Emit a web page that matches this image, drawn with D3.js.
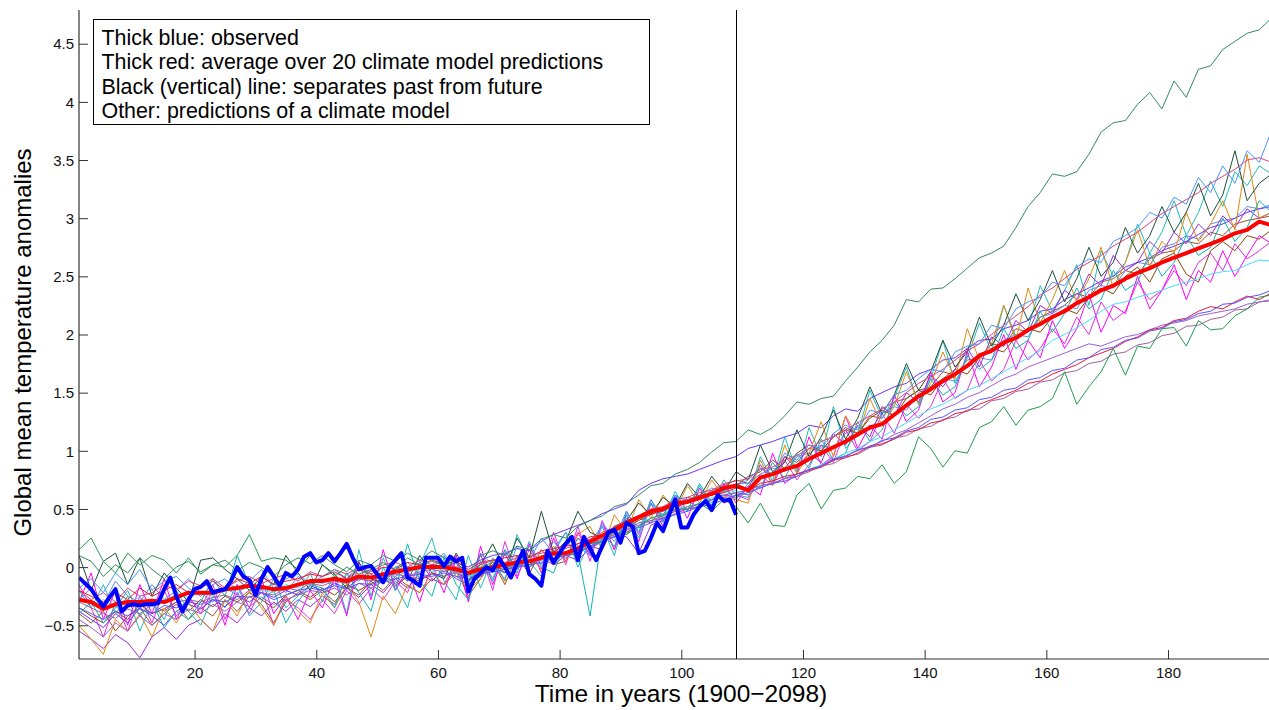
<!DOCTYPE html>
<html>
<head>
<meta charset="utf-8">
<script src="https://cdn.jsdelivr.net/npm/d3@7"></script>
<style>
  body { margin: 0; background: #fff; }
  svg { display: block; font-family: "Liberation Sans", Arial, Helvetica, sans-serif; }
</style>
</head>
<body>
<svg id="chart" width="1269" height="710"></svg>
<script>
// plot box (MATLAB style, ticks pointing in)
const margin = { top: 10, right: 0, bottom: 51, left: 79 }
const W = 1269, H = 710
const width = W - margin.left - margin.right
const height = H - margin.top - margin.bottom

// model runs are read every two years (1, 3, ..., 197), observations every year (1..109)
const modelYears = d3.range(1, 198, 2)
const obsYears = d3.range(1, 110)
const splitYear = 109
const xTicks = [20, 40, 60, 80, 100, 120, 140, 160, 180]
const yTicks = [-0.5, 0, 0.5, 1, 1.5, 2, 2.5, 3, 3.5, 4, 4.5]

const legendLines = [
  "Thick blue: observed",
  "Thick red: average over 20 climate model predictions",
  "Black (vertical) line: separates past from future",
  "Other: predictions of a climate model"
]

const observed = [
  -0.09,-0.14,-0.19,-0.27,-0.34,-0.26,-0.19,-0.38,-0.33,-0.32,
  -0.33,-0.32,-0.32,-0.31,-0.19,-0.09,-0.25,-0.38,-0.28,-0.19,
  -0.17,-0.12,-0.22,-0.20,-0.19,-0.12,0.00,-0.08,-0.11,-0.24,
  -0.10,0.00,-0.08,-0.16,-0.05,-0.08,-0.02,0.09,0.12,0.04,
  0.06,0.12,0.05,0.12,0.20,0.08,-0.02,0.00,0.01,-0.06,
  -0.13,0.00,0.06,0.12,-0.09,-0.12,-0.16,0.08,0.08,0.08,
  0.01,0.09,0.05,0.08,-0.21,-0.10,-0.05,0.00,-0.03,0.08,
  0.00,-0.09,0.03,0.14,-0.06,-0.10,-0.16,0.14,0.04,0.12,
  0.20,0.26,0.06,0.26,0.16,0.06,0.18,0.30,0.32,0.21,
  0.38,0.35,0.12,0.14,0.25,0.38,0.31,0.45,0.58,0.34,
  0.34,0.45,0.52,0.57,0.49,0.62,0.57,0.58,0.45
]

const modelMean = [
  -0.28,-0.30,-0.36,-0.32,-0.30,-0.30,-0.29,-0.30,-0.26,-0.22,
  -0.22,-0.22,-0.19,-0.18,-0.16,-0.17,-0.19,-0.18,-0.15,-0.12,
  -0.12,-0.10,-0.12,-0.08,-0.09,-0.06,-0.04,-0.02,0.00,0.00,
  0.00,-0.02,-0.05,-0.02,0.00,0.02,0.04,0.05,0.08,0.12,
  0.12,0.16,0.22,0.27,0.32,0.38,0.43,0.48,0.50,0.55,
  0.56,0.60,0.63,0.68,0.70,0.66,0.77,0.80,0.84,0.87,
  0.93,0.98,1.03,1.08,1.14,1.20,1.23,1.31,1.39,1.47,
  1.53,1.60,1.66,1.73,1.82,1.86,1.93,1.97,2.04,2.09,
  2.15,2.20,2.27,2.32,2.38,2.42,2.48,2.53,2.57,2.62,
  2.66,2.70,2.74,2.78,2.82,2.87,2.90,2.97,2.94
]

// the 20 model runs
const runSeaGreen = [
  0.10,0.05,-0.08,0.02,-0.05,0.08,-0.02,-0.10,0.00,0.05,
  -0.04,0.02,0.06,-0.03,0.04,0.00,-0.08,0.02,0.08,0.03,
  0.10,0.02,-0.04,0.06,0.02,0.10,0.05,0.12,0.06,0.14,
  0.08,0.04,-0.06,0.10,0.14,0.10,0.18,0.15,0.24,0.28,
  0.25,0.35,0.40,0.44,0.52,0.55,0.62,0.70,0.72,0.80,
  0.84,0.90,0.99,1.07,1.08,1.18,1.14,1.20,1.30,1.42,
  1.40,1.45,1.47,1.60,1.72,1.85,1.95,2.08,2.30,2.28,
  2.39,2.40,2.48,2.57,2.66,2.70,2.76,2.92,3.10,3.22,
  3.38,3.36,3.40,3.55,3.74,3.82,3.84,3.98,4.08,3.94,
  4.18,4.04,4.28,4.31,4.45,4.52,4.59,4.62,4.72
]
const runGreen = [
  0.15,0.25,0.05,-0.05,0.12,0.02,0.10,0.06,-0.05,0.08,
  -0.06,0.02,0.00,0.10,0.28,0.05,0.08,0.06,-0.02,0.10,
  0.02,-0.08,0.00,-0.06,-0.02,0.04,-0.02,0.08,0.02,0.05,
  0.02,0.06,-0.12,0.00,0.04,-0.05,0.06,0.02,0.10,0.06,
  0.12,0.10,0.20,0.22,0.30,0.28,0.35,0.42,0.45,0.50,
  0.50,0.55,0.48,0.58,0.52,0.38,0.55,0.36,0.35,0.62,
  0.72,0.50,0.66,0.68,0.78,0.76,0.88,0.72,0.82,1.12,
  1.02,0.86,1.00,0.98,1.20,1.25,1.38,1.22,1.35,1.38,
  1.45,1.68,1.40,1.55,1.68,1.88,1.65,1.90,1.88,2.05,
  2.06,1.90,2.12,2.04,2.05,2.16,2.22,2.32,2.34
]
const runBlueLow = [
  -0.35,-0.40,-0.45,-0.38,-0.42,-0.36,-0.40,-0.33,-0.35,-0.30,
  -0.32,-0.28,-0.30,-0.25,-0.26,-0.22,-0.28,-0.24,-0.20,-0.18,
  -0.20,-0.16,-0.19,-0.14,-0.15,-0.12,-0.10,-0.08,-0.06,-0.08,
  -0.05,-0.08,-0.10,-0.06,-0.04,-0.02,0.00,0.02,0.04,0.08,
  0.10,0.12,0.18,0.22,0.26,0.30,0.34,0.38,0.42,0.45,
  0.48,0.52,0.54,0.58,0.62,0.64,0.68,0.72,0.74,0.78,
  0.84,0.87,0.93,0.95,1.01,1.03,1.09,1.11,1.17,1.20,
  1.27,1.29,1.35,1.37,1.44,1.46,1.52,1.54,1.61,1.63,
  1.69,1.71,1.78,1.80,1.87,1.89,1.95,1.97,2.03,2.05,
  2.11,2.13,2.18,2.20,2.26,2.27,2.32,2.34,2.38
]
const runCrimson = [
  -0.20,-0.25,-0.30,-0.22,-0.28,-0.18,-0.25,-0.20,-0.15,-0.22,
  -0.18,-0.12,-0.20,-0.10,-0.14,-0.08,-0.15,-0.12,-0.10,-0.06,
  -0.08,-0.04,-0.10,-0.02,-0.06,0.00,-0.02,0.04,0.02,0.06,
  0.03,0.05,-0.02,0.04,0.06,0.08,0.10,0.08,0.14,0.16,
  0.18,0.20,0.26,0.28,0.34,0.36,0.42,0.45,0.50,0.52,
  0.55,0.58,0.62,0.64,0.68,0.66,0.72,0.74,0.78,0.80,
  0.83,0.86,0.92,0.94,0.98,1.04,1.06,1.10,1.16,1.18,
  1.24,1.26,1.32,1.34,1.40,1.44,1.48,1.52,1.58,1.60,
  1.66,1.70,1.74,1.80,1.84,1.88,1.94,1.98,2.04,2.06,
  2.12,2.14,2.20,2.24,2.22,2.28,2.33,2.30,2.36
]
const runPurpleLow = [
  -0.45,-0.52,-0.60,-0.48,-0.55,-0.42,-0.50,-0.40,-0.45,-0.36,
  -0.40,-0.32,-0.38,-0.30,-0.34,-0.26,-0.32,-0.28,-0.24,-0.20,
  -0.22,-0.18,-0.24,-0.14,-0.18,-0.12,-0.14,-0.08,-0.10,-0.06,
  -0.08,-0.04,-0.12,-0.06,-0.02,-0.04,0.02,0.00,0.06,0.10,
  0.08,0.14,0.18,0.24,0.26,0.32,0.36,0.40,0.42,0.48,
  0.50,0.52,0.58,0.60,0.64,0.62,0.70,0.72,0.76,0.80,
  0.84,0.86,0.92,0.96,1.00,1.04,1.08,1.14,1.18,1.24,
  1.30,1.36,1.40,1.46,1.50,1.56,1.62,1.66,1.72,1.76,
  1.80,1.84,1.88,1.92,1.90,1.94,1.98,2.00,2.04,2.08,
  2.10,2.12,2.16,2.18,2.20,2.22,2.26,2.28,2.30
]
const runMauve = [
  -0.30,-0.35,-0.40,-0.44,-0.36,-0.40,-0.32,-0.38,-0.30,-0.28,
  -0.30,-0.26,-0.24,-0.28,-0.20,-0.22,-0.24,-0.18,-0.20,-0.14,
  -0.16,-0.12,-0.14,-0.10,-0.12,-0.08,-0.06,-0.08,-0.04,-0.02,
  -0.04,0.00,-0.06,-0.02,0.02,0.00,0.04,0.06,0.08,0.10,
  0.12,0.16,0.20,0.24,0.28,0.32,0.38,0.40,0.44,0.48,
  0.52,0.54,0.58,0.62,0.64,0.66,0.70,0.72,0.76,0.78,
  0.82,0.87,0.89,0.95,0.97,1.03,1.05,1.11,1.13,1.19,
  1.21,1.27,1.29,1.35,1.36,1.43,1.45,1.51,1.53,1.59,
  1.61,1.67,1.69,1.75,1.77,1.83,1.85,1.91,1.93,1.99,
  2.01,2.07,2.08,2.13,2.15,2.21,2.22,2.28,2.29
]
const runLightCyan = [
  -0.25,-0.32,-0.28,-0.35,-0.30,-0.26,-0.34,-0.28,-0.24,-0.26,
  -0.22,-0.25,-0.18,-0.22,-0.16,-0.20,-0.22,-0.15,-0.18,-0.12,
  -0.14,-0.10,-0.14,-0.08,-0.10,-0.06,-0.08,-0.04,-0.02,-0.04,
  -0.02,-0.04,-0.08,-0.04,0.00,0.02,0.00,0.04,0.06,0.10,
  0.10,0.14,0.18,0.24,0.28,0.32,0.38,0.42,0.45,0.50,
  0.52,0.55,0.60,0.62,0.66,0.62,0.70,0.72,0.76,0.80,
  0.84,0.88,0.93,0.98,1.02,1.08,1.12,1.18,1.24,1.30,
  1.36,1.40,1.46,1.52,1.56,1.62,1.68,1.74,1.80,1.86,
  1.95,2.00,2.06,2.12,2.20,2.26,2.28,2.32,2.35,2.38,
  2.42,2.45,2.48,2.52,2.54,2.55,2.60,2.64,2.63
]
const runSkyBlue = [
  -0.18,-0.10,-0.22,-0.05,-0.15,-0.02,-0.20,-0.12,-0.08,-0.18,
  -0.25,-0.15,-0.10,-0.20,-0.12,-0.02,-0.18,-0.10,-0.06,-0.14,
  -0.08,-0.02,-0.10,0.02,-0.06,-0.12,0.00,-0.04,0.04,-0.02,
  0.10,-0.08,-0.15,0.12,0.02,-0.10,0.18,0.05,0.25,0.12,
  0.30,0.18,0.10,0.38,0.25,0.48,0.30,0.55,0.45,0.62,
  0.56,0.60,0.58,0.66,0.70,0.75,0.85,0.80,0.98,0.92,
  1.05,1.02,1.15,1.22,1.18,1.35,1.32,1.48,1.52,1.62,
  1.70,1.68,1.85,1.90,1.92,2.08,2.05,2.22,2.28,2.32,
  2.45,2.42,2.58,2.65,2.62,2.80,2.85,2.92,3.05,3.00,
  3.18,3.12,3.35,3.22,3.45,3.30,3.58,3.48,3.75
]
const runPink = [
  -0.20,-0.28,-0.22,-0.30,-0.18,-0.25,-0.22,-0.15,-0.20,-0.12,
  -0.16,-0.10,-0.18,-0.12,-0.08,-0.14,-0.10,-0.06,-0.12,-0.04,
  -0.08,-0.02,-0.06,0.00,-0.04,0.02,0.04,0.00,0.06,0.02,
  0.04,0.00,-0.04,0.02,0.06,0.04,0.08,0.10,0.12,0.14,
  0.16,0.20,0.24,0.30,0.34,0.40,0.44,0.50,0.52,0.58,
  0.60,0.64,0.66,0.72,0.74,0.76,0.84,0.86,0.92,0.96,
  1.02,1.08,1.12,1.18,1.24,1.30,1.36,1.42,1.50,1.58,
  1.64,1.70,1.78,1.86,1.92,2.00,2.08,2.16,2.24,2.34,
  2.40,2.48,2.56,2.62,2.68,2.76,2.82,2.88,2.96,3.04,
  3.10,3.16,3.22,3.30,3.36,3.42,3.50,3.52,3.48
]
const runCyan = [
  -0.40,-0.30,-0.48,-0.35,-0.20,-0.42,-0.30,-0.52,-0.38,-0.45,
  -0.30,-0.10,-0.25,0.10,-0.15,-0.28,-0.20,-0.48,-0.30,-0.15,
  -0.18,-0.35,-0.05,-0.22,-0.38,0.00,-0.20,0.20,-0.12,-0.25,
  0.08,-0.15,-0.28,0.05,-0.12,0.15,-0.05,0.22,0.00,-0.05,
  0.22,0.12,-0.42,0.28,0.18,0.45,0.25,0.55,0.38,0.62,
  0.48,0.70,0.52,0.68,0.58,0.72,0.68,0.90,0.76,0.98,
  0.85,1.10,0.92,0.98,1.25,1.08,1.18,1.42,1.30,1.38,
  1.62,1.48,1.55,1.82,1.70,1.78,2.05,1.88,1.95,2.20,
  2.02,2.18,2.40,2.22,2.30,2.55,2.38,2.45,2.70,2.50,
  2.62,2.85,2.68,2.75,3.00,2.80,2.92,3.15,3.05
]
const runDarkSlate = [
  0.10,-0.20,0.05,0.12,-0.15,0.08,-0.25,-0.05,-0.18,-0.30,
  0.06,0.08,-0.02,-0.10,-0.20,-0.08,-0.15,0.10,-0.05,-0.20,
  0.02,-0.06,-0.18,0.04,-0.10,-0.14,-0.02,-0.12,0.10,-0.05,
  -0.10,0.12,-0.08,0.02,0.20,-0.02,0.25,0.08,0.48,0.12,
  0.22,0.48,0.30,0.25,0.35,0.40,0.55,0.45,0.60,0.52,
  0.72,0.60,0.78,0.65,0.82,0.75,1.05,0.82,0.90,1.18,
  0.95,1.12,1.35,1.10,1.28,1.55,1.32,1.48,1.75,1.52,
  1.68,1.95,1.72,1.85,2.15,1.90,2.08,2.35,2.12,2.30,
  2.55,2.28,2.48,2.75,2.50,2.62,2.92,2.70,2.85,3.10,
  2.88,3.05,3.30,3.02,3.20,3.58,3.15,3.30,3.38
]
const runOrange = [
  -0.50,-0.62,-0.75,-0.45,-0.55,-0.40,-0.60,-0.35,-0.48,-0.30,
  -0.45,-0.55,-0.28,-0.42,-0.20,-0.35,-0.50,-0.25,-0.38,-0.48,
  -0.22,-0.35,-0.15,-0.30,-0.60,-0.25,-0.40,-0.15,-0.22,-0.05,
  -0.15,-0.05,-0.20,-0.10,0.05,-0.12,0.00,0.10,-0.02,0.18,
  0.05,0.28,0.35,0.15,0.45,0.30,0.58,0.42,0.62,0.48,
  0.70,0.55,0.75,0.60,0.58,0.55,0.92,0.70,1.05,0.80,
  0.98,1.25,0.95,1.30,1.12,1.45,1.22,1.38,1.68,1.40,
  1.58,1.85,1.62,2.05,1.78,1.92,2.25,1.95,2.40,2.10,
  2.30,2.55,2.28,2.48,2.75,2.40,2.62,2.90,2.58,2.80,
  2.70,3.05,2.80,2.95,3.15,2.90,3.55,3.00,3.05
]
const runViolet = [
  -0.55,-0.62,-0.70,-0.58,-0.65,-0.78,-0.60,-0.52,-0.62,-0.50,
  -0.45,-0.55,-0.40,-0.48,-0.35,-0.42,-0.30,-0.38,-0.28,-0.34,
  -0.25,-0.32,-0.18,-0.26,-0.15,-0.22,-0.10,-0.18,-0.05,-0.12,
  -0.02,-0.10,-0.15,-0.08,0.00,-0.05,0.04,0.00,0.08,0.02,
  0.10,0.06,0.16,0.22,0.28,0.26,0.12,0.36,0.40,0.46,
  0.50,0.52,0.58,0.62,0.60,0.68,0.88,0.72,0.95,0.85,
  0.98,0.90,1.15,1.05,1.22,1.12,1.38,1.30,1.50,1.42,
  1.65,1.55,1.70,1.88,1.72,1.98,1.90,2.12,2.02,2.25,
  2.18,2.38,2.30,2.52,2.42,2.68,2.55,2.62,2.80,2.70,
  2.88,2.78,2.95,2.85,3.02,2.92,3.08,3.00,3.05
]
const runBlueViolet = [
  -0.38,-0.45,-0.52,-0.40,-0.48,-0.35,-0.42,-0.50,-0.38,-0.32,
  -0.36,-0.28,-0.34,-0.25,-0.30,-0.22,-0.26,-0.20,-0.24,-0.16,
  -0.20,-0.14,-0.18,-0.10,-0.12,-0.06,-0.08,0.00,-0.02,0.02,
  0.00,0.04,0.00,0.06,0.10,0.12,0.16,0.14,0.22,0.28,
  0.32,0.36,0.40,0.46,0.50,0.54,0.66,0.72,0.76,0.78,
  0.80,0.84,0.88,0.92,0.95,1.02,1.05,1.08,1.12,1.15,
  1.22,1.20,1.30,1.36,1.34,1.45,1.50,1.55,1.58,1.66,
  1.70,1.78,1.80,1.88,1.95,1.96,2.05,2.08,2.12,2.20,
  2.22,2.30,2.35,2.40,2.46,2.50,2.58,2.62,2.66,2.72,
  2.76,2.80,2.86,2.92,2.95,3.00,3.05,3.08,3.10
]
const runMagenta = [
  -0.30,-0.05,-0.45,-0.20,-0.50,-0.15,-0.40,-0.10,-0.45,-0.25,
  -0.40,-0.20,-0.50,-0.15,-0.35,-0.10,-0.40,-0.25,-0.45,-0.20,
  -0.35,-0.10,-0.42,0.05,-0.28,0.15,-0.20,-0.02,-0.30,0.02,
  -0.22,0.10,-0.30,0.18,-0.15,0.12,-0.10,0.20,-0.05,0.25,
  0.05,0.30,0.10,0.38,0.15,0.45,0.22,0.55,0.35,0.62,
  0.42,0.68,0.50,0.72,0.55,0.70,0.62,0.98,0.72,0.80,
  1.12,0.88,0.95,1.30,1.02,1.22,1.10,1.48,1.25,1.35,
  1.68,1.42,1.50,1.85,1.55,1.72,2.00,1.70,1.95,1.80,
  2.12,1.88,2.05,2.35,2.02,2.25,2.18,2.50,2.22,2.38,
  2.60,2.30,2.55,2.45,2.72,2.50,2.68,2.85,2.78
]
const runBrown = [
  -0.35,-0.42,-0.48,-0.38,-0.45,-0.32,-0.40,-0.36,-0.30,-0.38,
  -0.28,-0.34,-0.25,-0.30,-0.22,-0.28,-0.35,-0.24,-0.20,-0.26,
  -0.18,-0.24,-0.15,-0.20,-0.14,-0.10,-0.16,-0.08,-0.12,-0.05,
  -0.08,-0.02,-0.12,-0.04,0.00,-0.02,0.06,0.02,0.08,0.12,
  0.10,0.16,0.20,0.28,0.30,0.36,0.40,0.46,0.48,0.54,
  0.56,0.60,0.64,0.66,0.70,0.78,0.82,0.92,0.85,0.98,
  1.05,1.00,1.12,1.20,1.15,1.28,1.35,1.30,1.45,1.52,
  1.48,1.62,1.70,1.66,1.80,1.88,1.85,1.98,2.05,2.02,
  2.15,2.22,2.18,2.32,2.40,2.35,2.50,2.58,2.45,2.65,
  2.70,2.52,2.45,2.72,2.80,2.72,2.85,2.82,2.90
]
const runTeal = [
  -0.20,-0.35,-0.15,-0.40,-0.25,-0.55,-0.30,-0.45,-0.20,-0.38,
  -0.50,-0.25,-0.35,-0.15,-0.42,-0.30,-0.10,-0.35,-0.25,-0.05,
  -0.30,-0.05,-0.40,0.15,-0.25,0.08,-0.15,-0.35,0.02,0.25,
  -0.12,-0.28,0.10,-0.18,0.08,-0.12,0.28,0.05,-0.08,0.15,
  0.30,0.00,0.22,0.35,0.10,0.48,0.30,0.58,0.42,0.65,
  0.48,0.72,0.55,0.75,0.62,0.60,0.95,0.74,1.12,0.82,
  1.20,0.95,1.38,1.02,1.15,1.52,1.28,1.45,1.72,1.40,
  1.62,1.95,1.58,1.80,2.10,1.85,2.25,1.98,2.05,2.42,
  2.20,2.38,2.60,2.25,2.72,2.50,2.62,2.95,2.70,2.88,
  3.15,2.85,3.05,3.32,3.10,3.40,3.28,3.45,3.38
]
const runOrchid = [
  -0.15,-0.35,-0.60,-0.30,-0.55,-0.25,-0.48,-0.20,-0.42,-0.28,
  -0.35,-0.15,-0.45,-0.22,-0.40,-0.18,-0.50,-0.28,-0.35,-0.45,
  -0.28,-0.40,-0.20,-0.32,-0.18,-0.28,-0.12,-0.22,0.05,-0.10,
  -0.15,0.05,-0.28,0.12,-0.20,0.22,-0.08,0.15,-0.02,0.30,
  0.02,0.35,0.05,0.40,0.15,0.48,0.28,0.58,0.40,0.55,
  0.58,0.50,0.66,0.55,0.62,0.58,0.80,0.70,0.92,0.75,
  0.88,1.05,0.90,1.18,1.00,1.08,1.32,1.15,1.40,1.28,
  1.38,1.62,1.45,1.52,1.78,1.60,1.70,1.95,1.78,1.88,
  2.05,1.92,2.15,2.00,2.28,2.12,2.20,2.45,2.30,2.38,
  2.55,2.42,2.62,2.70,2.55,2.78,2.65,2.72,2.80
]
const runCornflower = [
  -0.28,-0.18,-0.32,-0.12,-0.25,-0.30,-0.15,-0.28,-0.20,-0.10,
  -0.22,-0.30,-0.18,-0.24,-0.10,-0.20,-0.14,-0.22,-0.08,-0.15,
  -0.10,-0.16,-0.06,-0.12,-0.02,-0.10,0.00,0.04,-0.06,0.02,
  0.12,-0.05,-0.12,0.10,-0.10,0.15,-0.02,0.18,0.02,0.22,
  0.10,0.25,0.12,0.35,0.22,0.42,0.35,0.48,0.45,0.60,
  0.58,0.62,0.68,0.64,0.72,0.72,0.80,0.85,0.82,0.95,
  0.98,1.05,1.02,1.15,1.20,1.18,1.32,1.38,1.35,1.50,
  1.55,1.62,1.60,1.75,1.80,1.78,1.95,2.00,1.98,2.15,
  2.18,2.25,2.22,2.38,2.42,2.40,2.55,2.62,2.60,2.75,
  2.78,2.85,2.82,2.95,2.98,3.00,3.10,3.08,3.12
]
const runSienna = [
  -0.40,-0.48,-0.38,-0.55,-0.42,-0.35,-0.50,-0.40,-0.32,-0.45,
  -0.35,-0.42,-0.28,-0.38,-0.25,-0.32,-0.48,-0.30,-0.22,-0.28,
  -0.20,-0.30,-0.18,-0.24,-0.12,-0.20,-0.08,-0.16,-0.22,-0.10,
  -0.15,-0.02,-0.25,-0.10,0.05,-0.15,0.10,-0.06,0.15,0.02,
  0.05,0.25,0.18,0.15,0.35,0.28,0.42,0.38,0.52,0.48,
  0.60,0.58,0.66,0.70,0.75,0.72,0.85,0.80,0.95,0.90,
  1.02,1.00,1.12,1.18,1.15,1.30,1.28,1.42,1.45,1.52,
  1.55,1.68,1.65,1.78,1.80,1.92,1.90,2.05,2.02,2.15,
  2.20,2.25,2.35,2.32,2.45,2.48,2.55,2.52,2.65,2.70,
  2.72,2.80,2.78,2.88,2.85,2.95,2.98,3.00,3.02
]

const runs = [
  { values: runSienna,     color: "#a0522d" },
  { values: runCornflower, color: "#5f8fef" },
  { values: runOrchid,     color: "#e030e0" },
  { values: runTeal,       color: "#20bcbc" },
  { values: runBrown,      color: "#8b4513" },
  { values: runMagenta,    color: "#ff00ff" },
  { values: runBlueViolet, color: "#6633ff" },
  { values: runViolet,     color: "#9a2be2" },
  { values: runOrange,     color: "#e08a10" },
  { values: runDarkSlate,  color: "#1e4d3a" },
  { values: runCyan,       color: "#10b4b4" },
  { values: runPink,       color: "#e0407a" },
  { values: runSkyBlue,    color: "#4d94ff" },
  { values: runLightCyan,  color: "#44ddff" },
  { values: runMauve,      color: "#a0609a" },
  { values: runPurpleLow,  color: "#9e5ecf" },
  { values: runCrimson,    color: "#e8183c" },
  { values: runBlueLow,    color: "#5555ff" },
  { values: runGreen,      color: "#1f9c50" },
  { values: runSeaGreen,   color: "#338a5e" }
]

const svg = d3.select("#chart")
const g = svg.append("g")
  .attr("transform", "translate(" + margin.left + "," + margin.top + ")")

const x = d3.scaleLinear().domain([1, 196.6]).range([0, width])
const y = d3.scaleLinear().domain([-0.79, 4.79]).range([height, 0])

g.append("clipPath").attr("id", "plot-clip")
  .append("rect").attr("width", width).attr("height", height)

const plot = g.append("g").attr("clip-path", "url(#plot-clip)")

const line = d3.line()
  .x(function (d) { return x(d[0]) })
  .y(function (d) { return y(d[1]) })

runs.forEach(function (r) {
  plot.append("path")
    .datum(d3.zip(modelYears, r.values))
    .attr("fill", "none")
    .attr("stroke", r.color)
    .attr("stroke-width", 1)
    .attr("stroke-linejoin", "round")
    .attr("d", line)
})

plot.append("path")
  .datum(d3.zip(modelYears, modelMean))
  .attr("fill", "none")
  .attr("stroke", "#ff0000")
  .attr("stroke-width", 4)
  .attr("stroke-linejoin", "round")
  .attr("d", line)

plot.append("path")
  .datum(d3.zip(obsYears, observed))
  .attr("fill", "none")
  .attr("stroke", "#0000ff")
  .attr("stroke-width", 4)
  .attr("stroke-linejoin", "round")
  .attr("d", line)

// past / future separator, snapped to the pixel grid
const sx = Math.round(x(splitYear)) + 0.5
g.append("line")
  .attr("x1", sx).attr("x2", sx)
  .attr("y1", 0).attr("y2", height)
  .attr("stroke", "#000").attr("stroke-width", 1)

// axes, ticks pointing inwards
const xAxis = g.append("g")
  .attr("transform", "translate(0," + height + ")")
  .call(d3.axisTop(x).tickValues(xTicks).tickSize(9).tickFormat(d3.format("d")))
xAxis.select(".domain").remove()
xAxis.selectAll("text").remove()
xAxis.append("line").attr("x1", 0).attr("x2", width).attr("stroke", "#333").attr("stroke-width", 1.2)
xAxis.selectAll(".tick line").attr("stroke", "#333")
xAxis.selectAll(".tick").append("text")
  .attr("y", 19).attr("fill", "#111")
  .attr("text-anchor", "middle")
  .style("font-size", "15px")
  .text(function (d) { return d })

const yAxis = g.append("g")
  .call(d3.axisRight(y).tickValues(yTicks).tickSize(9))
yAxis.select(".domain").remove()
yAxis.selectAll("text").remove()
yAxis.append("line").attr("y1", 0).attr("y2", height).attr("stroke", "#333").attr("stroke-width", 1.2)
yAxis.selectAll(".tick line").attr("stroke", "#333")
yAxis.selectAll(".tick").append("text")
  .attr("x", -5).attr("dy", "0.35em").attr("fill", "#111")
  .attr("text-anchor", "end")
  .style("font-size", "15px")
  .text(function (d) { return d < 0 ? "\u2212" + Math.abs(d) : String(d) })

// axis titles
svg.append("text")
  .attr("x", 681)
  .attr("y", 702)
  .attr("text-anchor", "middle")
  .style("font-size", "24.5px")
  .text("Time in years (1900\u22122098)")

svg.append("text")
  .attr("transform", "translate(31," + (margin.top + height / 2 + 8) + ") rotate(-90)")
  .attr("text-anchor", "middle")
  .style("font-size", "24px")
  .text("Global mean temperature anomalies")

// legend box
const legend = svg.append("g").attr("transform", "translate(93.5,19.5)")
legend.append("rect")
  .attr("width", 556).attr("height", 105)
  .attr("fill", "#fff").attr("stroke", "#000").attr("stroke-width", 1)
legend.selectAll("text")
  .data(legendLines)
  .enter().append("text")
    .attr("x", 8)
    .attr("y", function (d, i) { return 25 + i * 24.6 })
    .style("font-size", "21.4px")
    .text(function (d) { return d })
</script>
</body>
</html>
